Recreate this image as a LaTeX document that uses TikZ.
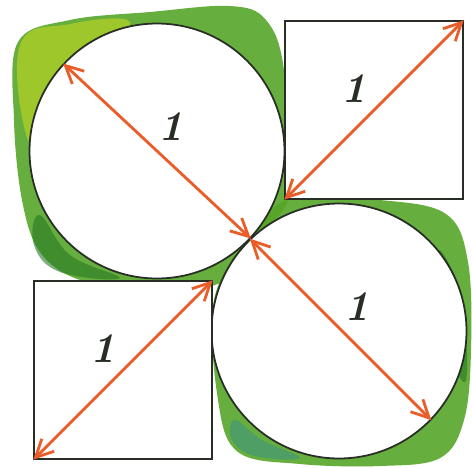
\documentclass[tikz,border=0pt]{standalone}
\usepackage{tikz}
\usetikzlibrary{arrows.meta}
\definecolor{leafgreen}{RGB}{86,166,40}
\definecolor{darkleaf}{RGB}{40,120,35}
\definecolor{limegreen}{RGB}{168,204,40}
\definecolor{tealwash}{RGB}{50,140,150}
\definecolor{pencil}{RGB}{40,45,38}
\definecolor{arrowred}{RGB}{234,92,40}
\tikzstyle{disc}  = [circle, draw=pencil, line width=1pt, fill=white, minimum size=5.1cm, inner sep=0pt]
\tikzstyle{sq}    = [rectangle, draw=pencil, line width=0.8pt, fill=white, minimum size=3.56cm, inner sep=0pt]
\tikzstyle{arrow} = [line width=1.6pt, draw=arrowred, {Straight Barb[length=10pt,width=10pt]}-{Straight Barb[length=10pt,width=10pt]}]
\tikzstyle{unit}  = [font=\fontsize{24}{24}\selectfont\bfseries\itshape, text=pencil]

\begin{document}
\begin{tikzpicture}[x=0.02cm, y=-0.02cm]
  \useasboundingbox (0,0) rectangle (472,467);
  \fill[white] (0,0) rectangle (472,467);

  % Green wash behind the circles
  \fill[leafgreen, opacity=0.9] plot[smooth cycle, tension=0.6] coordinates {
    (18,42) (70,20) (150,12) (230,6) (266,20) (284,70) (290,190) (262,232)
    (222,282) (150,290) (80,280) (40,252) (22,200) (14,120)};
  \fill[leafgreen, opacity=0.9] plot[smooth cycle, tension=0.6] coordinates {
    (250,236) (292,198) (380,200) (446,214) (468,262) (471,350) (464,420)
    (440,458) (380,466) (300,464) (238,452) (218,400) (214,300)};
  \fill[limegreen, opacity=0.85] plot[smooth cycle, tension=0.7] coordinates {
    (20,45) (70,24) (130,22) (90,60) (50,110) (28,140)};
  \fill[darkleaf, opacity=0.6] plot[smooth cycle, tension=0.7] coordinates {
    (40,215) (70,255) (120,278) (60,272) (34,245)};
  \fill[darkleaf, opacity=0.6] plot[smooth cycle, tension=0.7] coordinates {
    (440,250) (462,300) (466,380) (450,350) (446,290)};
  \fill[tealwash, opacity=0.45] plot[smooth cycle, tension=0.7] coordinates {
    (235,420) (262,440) (300,458) (255,456) (232,440)};

  % Circles
  \node[disc] (top disc) at (157,151) {};
  \node[disc] (bottom disc) at (339,331) {};

  % Squares
  \node[sq] (right square) at (374,110) {};
  \node[sq] (left square) at (123,370) {};

  % Diagonals
  \draw[arrow] (top disc.137) -- node[unit, above right, xshift=-3pt, yshift=2pt]{1} (top disc.-43);
  \draw[arrow] (bottom disc.134) -- node[unit, above right, xshift=-2pt, yshift=1pt]{1} (bottom disc.-44);
  \draw[arrow] (right square.south west) -- node[unit, above left]{1} (right square.north east);
  \draw[arrow] (left square.south west) -- node[unit, above left]{1} (left square.north east);
\end{tikzpicture}
\end{document}
